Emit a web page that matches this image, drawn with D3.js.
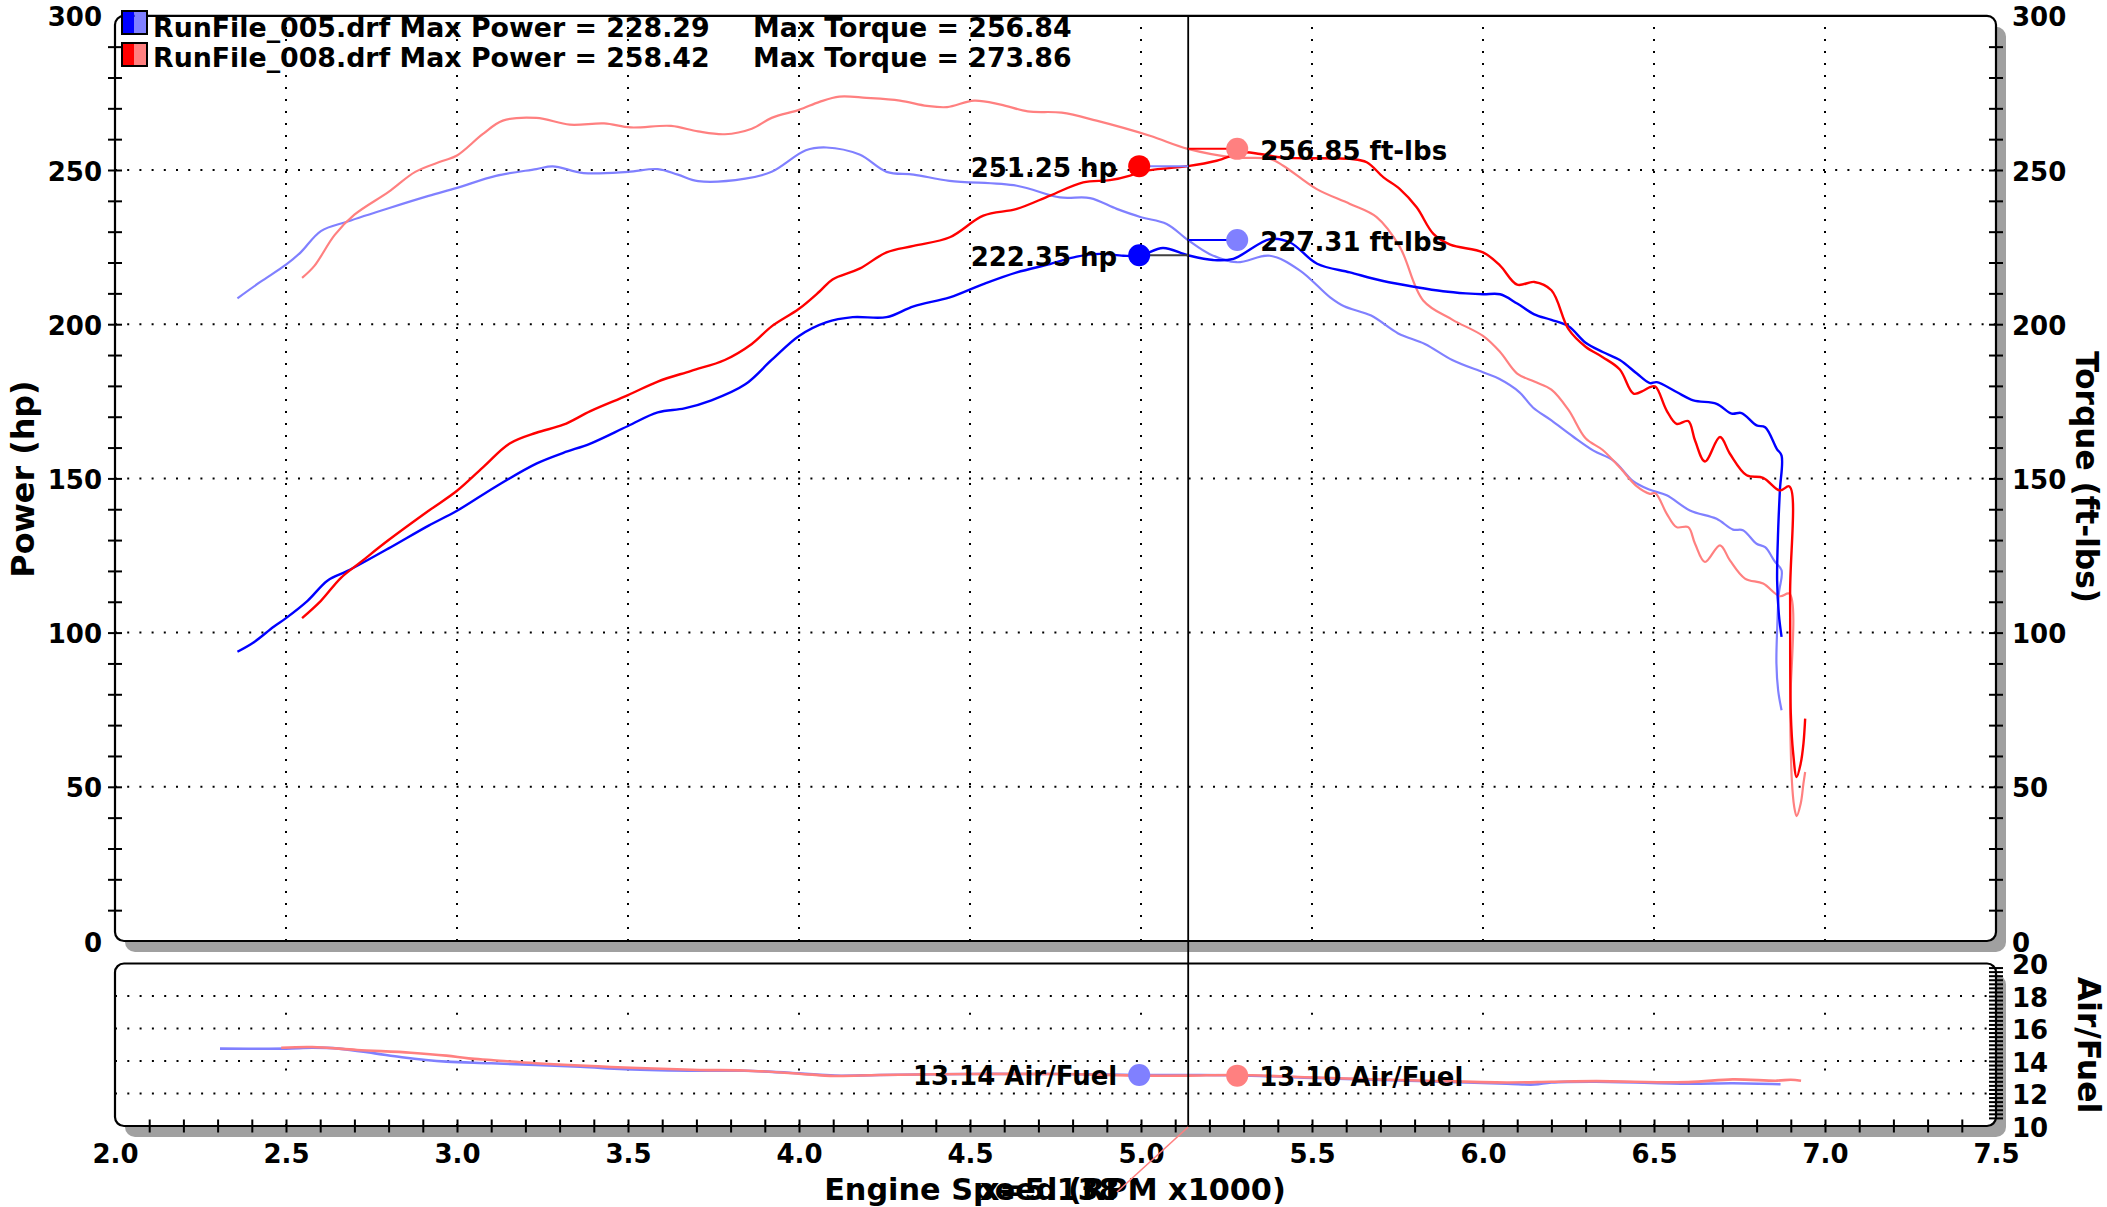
<!DOCTYPE html>
<html><head><meta charset="utf-8">
<script src="https://cdn.jsdelivr.net/npm/d3@7"></script>
<style>html,body{margin:0;padding:0;background:#fff;} svg{display:block;}</style>
</head><body>
<svg id="chart" width="2107" height="1207"></svg>
<script>
// ---------------- DATA ----------------
const runNames = ["RunFile_005.drf", "RunFile_008.drf"];
const maxPower = [228.29, 258.42];
const maxTorque = [256.84, 273.86];
const powerTicks = [0, 50, 100, 150, 200, 250, 300];
const afTicks = [10, 12, 14, 16, 18, 20];
const rpmTicks = [2.0, 2.5, 3.0, 3.5, 4.0, 4.5, 5.0, 5.5, 6.0, 6.5, 7.0, 7.5];

// [rpm x1000, hp]
const power005 = [[2.358,93.8],[2.405,96.8],[2.465,102],[2.5,104.7],[2.563,110.3],[2.622,116.9],[2.68,120],[2.8,127.3],[2.917,134.7],[3.0,139.5],[3.114,147.4],[3.232,154.8],[3.311,158.3],[3.39,161.3],[3.5,167],[3.587,171.4],[3.665,172.7],[3.744,175.3],[3.843,180.5],[3.92,188.4],[4.0,196.2],[4.079,200.6],[4.157,202.3],[4.256,202.3],[4.335,205.8],[4.441,208.7],[4.539,213],[4.637,216.8],[4.734,219.5],[4.812,221.9],[4.88,222.8],[4.948,222.2],[5.0,222.3],[5.064,224.7],[5.137,222.35],[5.211,220.8],[5.27,221.2],[5.377,227.6],[5.436,226.5],[5.515,219.6],[5.611,216.8],[5.708,214],[5.806,212],[5.883,210.7],[5.95,210],[6.0,209.7],[6.05,209.7],[6.1,206.7],[6.15,203.2],[6.2,201.4],[6.25,199.3],[6.3,194],[6.35,191],[6.4,188.4],[6.45,184],[6.488,180.9],[6.508,181.2],[6.566,178],[6.615,175.3],[6.683,174.2],[6.727,171],[6.756,171.2],[6.8,167.2],[6.825,166.6],[6.859,159.6],[6.873,157.4],[6.868,146],[6.863,133],[6.86,117],[6.865,106],[6.873,98.6]];
// [rpm x1000, ft-lbs]
const torque005 = [[2.358,208.4],[2.425,213.7],[2.5,219.3],[2.543,223.3],[2.602,230.2],[2.68,233.3],[2.8,237.6],[2.917,241.6],[3.0,244.2],[3.114,248.1],[3.232,250.3],[3.28,251.2],[3.37,249],[3.5,249.4],[3.587,250.3],[3.646,248.5],[3.705,246.4],[3.843,247.2],[3.92,249.4],[4.02,256.4],[4.08,257.3],[4.177,255],[4.256,249.4],[4.335,248.5],[4.44,246.5],[4.637,244.9],[4.763,241.1],[4.851,240.9],[4.929,237.4],[5.0,234.7],[5.075,232.5],[5.137,227.31],[5.2,222.8],[5.28,220.1],[5.377,222.2],[5.465,217.4],[5.553,208.7],[5.594,205.8],[5.673,202.8],[5.752,197],[5.83,193.6],[5.91,188.4],[6.0,184.4],[6.047,182.3],[6.106,178],[6.146,173],[6.2,168.8],[6.264,163.5],[6.323,159],[6.382,155.7],[6.44,149],[6.488,146.3],[6.537,144.5],[6.605,139.6],[6.683,136.9],[6.731,133.4],[6.76,133.2],[6.8,128.8],[6.825,127.7],[6.854,122.9],[6.873,120.2],[6.865,112.6],[6.86,100.8],[6.858,90],[6.863,81.3],[6.873,74.8]];
const power008 = [[2.547,104.7],[2.602,110.3],[2.66,117.7],[2.72,123],[2.8,130],[2.917,139.5],[3.0,146],[3.075,153.5],[3.154,161.3],[3.232,164.8],[3.311,167.4],[3.39,171.8],[3.5,177],[3.587,181.4],[3.685,184.9],[3.783,188.4],[3.862,193.6],[3.92,199.3],[4.0,205],[4.06,210.6],[4.098,214.5],[4.177,218],[4.256,223.3],[4.335,225.4],[4.441,228.2],[4.539,235.2],[4.637,237.4],[4.734,241.7],[4.831,246],[4.909,246.7],[4.968,248.2],[5.0,249.5],[5.137,251.25],[5.221,253],[5.298,255.7],[5.348,255.2],[5.416,254],[5.611,253.6],[5.66,252.5],[5.709,247.6],[5.757,243.8],[5.806,237.9],[5.855,229.3],[5.904,225.8],[6.0,223.3],[6.05,219],[6.1,212.8],[6.15,213.7],[6.2,211],[6.25,198.4],[6.3,192.7],[6.35,189.3],[6.4,185.3],[6.44,177.5],[6.47,178.5],[6.488,179.6],[6.504,179.8],[6.537,172],[6.566,167.7],[6.6,168.6],[6.62,162.3],[6.649,155.5],[6.693,163.4],[6.722,158],[6.771,151],[6.819,150.2],[6.868,146.1],[6.896,147.4],[6.898,112.6],[6.9,73.8],[6.907,60.8],[6.917,53.2],[6.929,57.6],[6.937,64],[6.942,72.1]];
const torque008 = [[2.547,215],[2.583,218.9],[2.642,228.9],[2.7,235.5],[2.8,242.9],[2.878,249.4],[2.957,252.9],[3.0,254.7],[3.075,261.6],[3.134,266],[3.232,266.9],[3.33,264.7],[3.43,265.1],[3.508,263.8],[3.626,264.3],[3.705,262.5],[3.783,261.6],[3.862,263.4],[3.92,266.9],[4.0,269.5],[4.06,272.1],[4.118,273.8],[4.197,273.4],[4.295,272.5],[4.374,270.8],[4.433,270.4],[4.512,272.5],[4.59,271.2],[4.669,269],[4.768,268.6],[4.87,266],[5.026,261.1],[5.137,256.85],[5.27,254.1],[5.377,253.6],[5.416,251.4],[5.514,243.8],[5.611,239],[5.689,234.7],[5.757,225],[5.825,207.7],[5.91,201.5],[6.0,196.2],[6.05,191],[6.1,184],[6.15,181.4],[6.2,178.8],[6.25,172.2],[6.3,163],[6.35,159.2],[6.4,153.5],[6.45,147.4],[6.488,145],[6.504,145.2],[6.537,138.6],[6.566,134.2],[6.6,134.2],[6.62,128.8],[6.649,122.9],[6.693,128.3],[6.722,123.4],[6.766,117.5],[6.819,115.9],[6.868,111.8],[6.896,112.6],[6.898,73.8],[6.903,52.2],[6.91,43.5],[6.917,40.5],[6.929,44.6],[6.937,51.1],[6.942,54.8]];
// [rpm x1000, air/fuel]
const af005 = [[2.307,14.76],[2.5,14.76],[2.577,14.82],[2.655,14.76],[2.76,14.47],[2.839,14.23],[2.969,13.96],[3.1,13.86],[3.36,13.65],[3.49,13.5],[3.71,13.4],[3.84,13.4],[4.0,13.24],[4.104,13.1],[4.235,13.14],[4.5,13.2],[4.76,13.2],[5.0,13.14],[5.137,13.14],[5.28,13.12],[5.55,12.93],[5.81,12.77],[6.07,12.6],[6.15,12.55],[6.2,12.68],[6.33,12.73],[6.6,12.6],[6.73,12.63],[6.87,12.57]];
const af008 = [[2.486,14.82],[2.577,14.86],[2.708,14.68],[2.865,14.51],[2.969,14.33],[3.034,14.16],[3.1,14.06],[3.23,13.86],[3.49,13.6],[3.71,13.45],[3.84,13.42],[4.0,13.22],[4.104,13.08],[4.235,13.14],[4.5,13.2],[4.76,13.2],[5.0,13.1],[5.137,13.1],[5.28,13.14],[5.55,12.95],[5.81,12.8],[6.07,12.68],[6.2,12.72],[6.33,12.76],[6.6,12.7],[6.73,12.87],[6.86,12.79],[6.9,12.85],[6.93,12.79]];

const cursorRpm = 5.138;
const cursorHp = [222.35, 251.25];
const cursorTq = [227.31, 256.85];
const cursorAf = [13.14, 13.10];

// ---------------- STYLE ----------------
const FONT = "'DejaVu Sans', Verdana, sans-serif";
const dark = ["#0000ff", "#ff0000"];
const light = ["#8080ff", "#ff8080"];

const svg = d3.select("#chart");
svg.append("rect").attr("width", 2107).attr("height", 1207).attr("fill", "#fff");

const x = d3.scaleLinear().domain([2, 7.5]).range([115, 1996]);
const yP = d3.scaleLinear().domain([0, 300]).range([941, 15.8]);
const yA = d3.scaleLinear().domain([10, 20]).range([1126, 963.5]);

const x0 = x(2), x1 = x(7.5);
const panels = [
  {y0: yP(300), y1: yP(0)},
  {y0: yA(20), y1: yA(10)}
];

// shadows + backgrounds
panels.forEach(p => {
  svg.append("rect").attr("x", x0 + 10).attr("y", p.y0 + 11)
    .attr("width", x1 - x0).attr("height", p.y1 - p.y0).attr("rx", 10)
    .attr("fill", "#a0a0a0");
  svg.append("rect").attr("x", x0).attr("y", p.y0)
    .attr("width", x1 - x0).attr("height", p.y1 - p.y0).attr("rx", 9)
    .attr("fill", "#fff");
});

// grid lines
const grid = svg.append("g").attr("stroke", "#000").attr("stroke-width", 2).attr("fill", "none");
grid.selectAll("line.hp").data(powerTicks.filter(d => d > 0 && d < 300)).join("line")
  .attr("x1", x0).attr("x2", x1).attr("y1", d => yP(d)).attr("y2", d => yP(d))
  .attr("stroke-dasharray", "2 10.2");
grid.selectAll("line.vp").data(rpmTicks.filter(d => d > 2 && d < 7.5)).join("line")
  .attr("class", "vp")
  .attr("x1", d => x(d)).attr("x2", d => x(d)).attr("y1", yP(0)).attr("y2", yP(300))
  .attr("stroke-dasharray", "2 10");
grid.selectAll("line.ha").data(afTicks.filter(d => d > 10 && d < 20)).join("line")
  .attr("class", "ha")
  .attr("x1", x0).attr("x2", x1).attr("y1", d => yA(d)).attr("y2", d => yA(d))
  .attr("stroke-dasharray", "2 10.3");
grid.selectAll("line.va").data(rpmTicks.filter(d => d > 2 && d < 7.5)).join("line")
  .attr("class", "va")
  .attr("x1", d => x(d)).attr("x2", d => x(d)).attr("y1", yA(10)).attr("y2", yA(20))
  .attr("stroke-dasharray", "2 53.6");

// curves
const lineP = d3.line().x(d => x(d[0])).y(d => yP(d[1])).curve(d3.curveCatmullRom.alpha(0.5));
const lineA = d3.line().x(d => x(d[0])).y(d => yA(d[1])).curve(d3.curveCatmullRom.alpha(0.5));
const curves = svg.append("g").attr("fill", "none").attr("stroke-linejoin", "round");
curves.append("path").attr("d", lineP(torque005)).attr("stroke", light[0]).attr("stroke-width", 2.2);
curves.append("path").attr("d", lineP(torque008)).attr("stroke", light[1]).attr("stroke-width", 2.2);
curves.append("path").attr("d", lineP(power005)).attr("stroke", dark[0]).attr("stroke-width", 2.4);
curves.append("path").attr("d", lineP(power008)).attr("stroke", dark[1]).attr("stroke-width", 2.4);
curves.append("path").attr("d", lineA(af005)).attr("stroke", light[0]).attr("stroke-width", 2.6);
curves.append("path").attr("d", lineA(af008)).attr("stroke", light[1]).attr("stroke-width", 2.6);

// panel borders
panels.forEach(p => {
  svg.append("rect").attr("x", x0).attr("y", p.y0)
    .attr("width", x1 - x0).attr("height", p.y1 - p.y0).attr("rx", 9)
    .attr("fill", "none").attr("stroke", "#000").attr("stroke-width", 2.2);
});

// axes
function styleAxis(g) {
  g.select(".domain").remove();
  g.attr("font-family", FONT).attr("font-size", 26).attr("font-weight", "bold");
  g.selectAll("text").attr("fill", "#000");
  g.selectAll("line").attr("stroke", "#000").attr("stroke-width", 2);
}
function vLabels(g) { g.selectAll("text").attr("dy", "0.385em"); }
// left power ticks (crossing)
svg.append("g").attr("transform", `translate(${x0 + 7},0)`)
  .call(d3.axisLeft(yP).tickValues(d3.range(10, 300, 10)).tickSize(14).tickFormat(""))
  .call(styleAxis);
svg.append("g").attr("transform", `translate(${x0},0)`)
  .call(d3.axisLeft(yP).tickValues(powerTicks).tickSize(0).tickPadding(13).tickFormat(d3.format("d")))
  .call(styleAxis).call(vLabels);
// right torque axis
svg.append("g").attr("transform", `translate(${x1 - 7},0)`)
  .call(d3.axisRight(yP).tickValues(d3.range(10, 300, 10)).tickSize(14).tickFormat(""))
  .call(styleAxis);
svg.append("g").attr("transform", `translate(${x1},0)`)
  .call(d3.axisRight(yP).tickValues(powerTicks).tickSize(0).tickPadding(16).tickFormat(d3.format("d")))
  .call(styleAxis).call(vLabels);
// right air/fuel axis
svg.append("g").attr("transform", `translate(${x1 - 7},0)`)
  .call(d3.axisRight(yA).tickValues(d3.range(10.5, 19.9, 0.25)).tickSize(14).tickFormat(""))
  .call(styleAxis);
svg.append("g").attr("transform", `translate(${x1},0)`)
  .call(d3.axisRight(yA).tickValues(afTicks).tickSize(0).tickPadding(16).tickFormat(d3.format("d")))
  .call(styleAxis).call(vLabels);
// bottom rpm axis
svg.append("g").attr("transform", `translate(0,${yA(10) - 6.5})`)
  .call(d3.axisBottom(x).tickValues(d3.range(21, 75, 1).map(d => d / 10)).tickSize(13).tickFormat(""))
  .call(styleAxis);
svg.append("g").attr("transform", `translate(0,${yA(10)})`)
  .call(d3.axisBottom(x).tickValues(rpmTicks).tickSize(0).tickPadding(18.5).tickFormat(d3.format(".1f")))
  .call(styleAxis);

// cursor
const cx = x(cursorRpm);
svg.append("line").attr("x1", cx).attr("x2", cx).attr("y1", yP(300)).attr("y2", yA(10) + 1)
  .attr("stroke", "#000").attr("stroke-width", 1.8);

const leftX = cx - 49, rightX = cx + 49;
const txt = svg.append("g").attr("font-family", FONT).attr("font-weight", "bold").attr("font-size", 26).attr("fill", "#000");
// leader lines
const leaderHp = ["#404040", light[0]];
const leaderTq = [dark[0], dark[1]];
[0, 1].forEach(i => {
  svg.append("line").attr("x1", leftX).attr("x2", cx).attr("y1", yP(cursorHp[i])).attr("y2", yP(cursorHp[i]))
    .attr("stroke", leaderHp[i]).attr("stroke-width", 2);
  svg.append("line").attr("x1", cx).attr("x2", rightX).attr("y1", yP(cursorTq[i])).attr("y2", yP(cursorTq[i]))
    .attr("stroke", leaderTq[i]).attr("stroke-width", 2);
});
[0, 1].forEach(i => {
  svg.append("circle").attr("cx", leftX).attr("cy", yP(cursorHp[i])).attr("r", 11).attr("fill", dark[i]);
  txt.append("text").attr("x", leftX - 22).attr("y", yP(cursorHp[i]) + 11).attr("text-anchor", "end")
    .text(d3.format(".2f")(cursorHp[i]) + " hp");
  svg.append("circle").attr("cx", rightX).attr("cy", yP(cursorTq[i])).attr("r", 11).attr("fill", light[i]);
  txt.append("text").attr("x", rightX + 23).attr("y", yP(cursorTq[i]) + 11)
    .text(d3.format(".2f")(cursorTq[i]) + " ft-lbs");
});
// air/fuel cursor labels
svg.append("circle").attr("cx", leftX).attr("cy", yA(cursorAf[0])).attr("r", 11).attr("fill", light[0]);
txt.append("text").attr("x", leftX - 22).attr("y", yA(cursorAf[0]) + 10).attr("text-anchor", "end")
  .text(d3.format(".2f")(cursorAf[0]) + " Air/Fuel");
svg.append("circle").attr("cx", rightX).attr("cy", yA(cursorAf[1])).attr("r", 11).attr("fill", light[1]);
txt.append("text").attr("x", rightX + 22).attr("y", yA(cursorAf[1]) + 10)
  .text(d3.format(".2f")(cursorAf[1]) + " Air/Fuel");

// legend
const leg = svg.append("g").attr("font-family", FONT).attr("font-weight", "bold").attr("font-size", 26.8).attr("fill", "#000");
[0, 1].forEach(i => {
  const ly = 11 + i * 32;
  svg.append("rect").attr("x", 122).attr("y", ly).attr("width", 12.5).attr("height", 23).attr("fill", dark[i]);
  svg.append("rect").attr("x", 134.5).attr("y", ly).attr("width", 12.5).attr("height", 23).attr("fill", light[i]);
  svg.append("rect").attr("x", 122).attr("y", ly).attr("width", 25).attr("height", 23)
    .attr("fill", "none").attr("stroke", "#000").attr("stroke-width", 2);
  leg.append("text").attr("x", 153).attr("y", 37 + i * 30)
    .text(`${runNames[i]} Max Power = ${d3.format(".2f")(maxPower[i])}`);
  leg.append("text").attr("x", 753).attr("y", 37 + i * 30)
    .text(`Max Torque = ${d3.format(".2f")(maxTorque[i])}`);
});

// axis titles
const titles = svg.append("g").attr("font-family", FONT).attr("font-weight", "bold").attr("fill", "#000");
titles.append("text").attr("font-size", 31.8).attr("transform", "translate(34,479) rotate(-90)").attr("text-anchor", "middle").text("Power (hp)");
titles.append("text").attr("font-size", 31.2).attr("transform", "translate(2076,477) rotate(90)").attr("text-anchor", "middle").text("Torque (ft-lbs)");
titles.append("text").attr("font-size", 31.5).attr("transform", "translate(2078,1045) rotate(90)").attr("text-anchor", "middle").text("Air/Fuel");
titles.append("text").attr("font-size", 30.3).attr("x", 1055).attr("y", 1200).attr("text-anchor", "middle").text("Engine Speed (RPM x1000)");
// cursor readout overlapping the title
titles.append("text").attr("font-size", 30).attr("x", 980).attr("y", 1200).text("x=" + d3.format(".3f")(cursorRpm));
svg.append("line").attr("x1", cx).attr("y1", yA(10) + 1).attr("x2", 1117).attr("y2", 1192)
  .attr("stroke", light[1]).attr("stroke-width", 1.6);
</script>
</body></html>
